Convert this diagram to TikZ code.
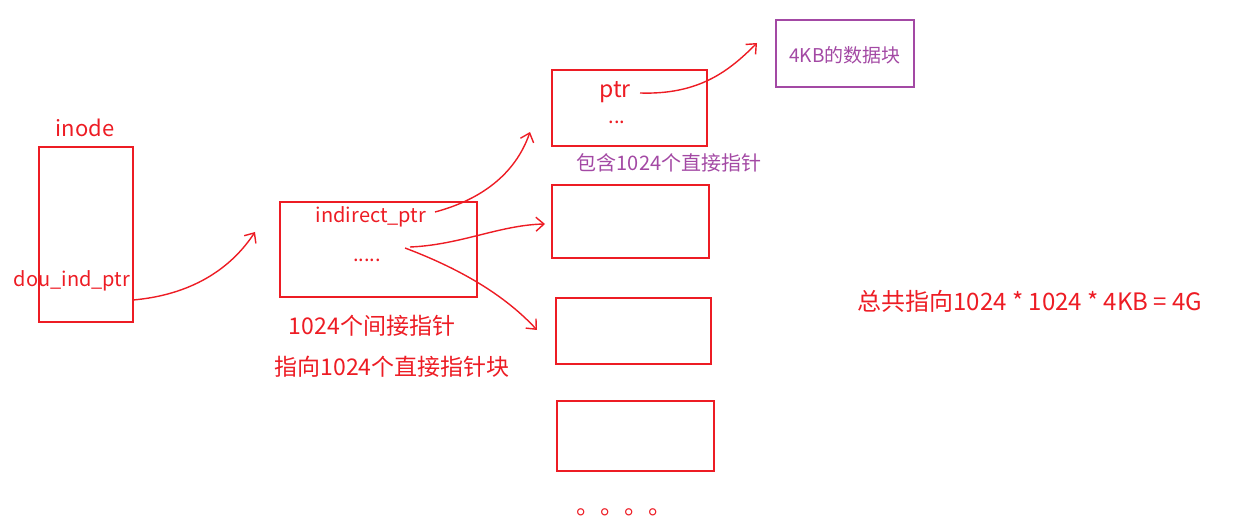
\documentclass[tikz,border=0pt]{standalone}
\usepackage{fontspec}
\setmainfont{Noto Sans CJK SC}
\usetikzlibrary{arrows.meta}
\definecolor{rd}{HTML}{ED1C24}
\definecolor{pu}{HTML}{A349A4}
\begin{document}
\begin{tikzpicture}[x=1pt,y=-1pt,
  box/.style={draw=rd,line width=2.4pt},
  rt/.style={text=rd,font=\fontsize{20}{20}\selectfont,inner sep=0pt},
  pt/.style={text=pu,font=\fontsize{19}{19}\selectfont,inner sep=0pt},
  arr/.style={draw=rd,line width=1.4pt,-{Straight Barb[length=8pt,width=14pt]}}]
\useasboundingbox (0,0) rectangle (1242,529);
\draw[box] (39,147) rectangle (133,322);
\draw[box] (280,202) rectangle (477,297);
\draw[box] (552,70) rectangle (707,146);
\draw[box] (552,185) rectangle (709,258);
\draw[box] (556,298) rectangle (711,364);
\draw[box] (557,401) rectangle (714,471);
\draw[draw=pu,line width=2.4pt] (776,20) rectangle (914,87);
\node[rt,font=\fontsize{22}{22}\selectfont] (inode) at (85,128) {inode};
\node[rt] (dou) at (72,281) {dou\_ind\_ptr};
\node[rt] (ind) at (371,217) {indirect\_ptr};
\node[rt] (d1) at (367,260) {.....};
\node[rt,font=\fontsize{23}{23}\selectfont] (l1) at (372,326) {1024个间接指针};
\node[rt,font=\fontsize{23}{23}\selectfont] (l2) at (392,367) {指向1024个直接指针块};
\node[rt,font=\fontsize{23}{23}\selectfont] (ptr) at (615,92) {ptr};
\node[rt] (d2) at (617,122) {...};
\node[pt,font=\fontsize{20}{20}\selectfont] (l3) at (669,163) {包含1024个直接指针};
\node[pt] (blk) at (845,55) {4KB的数据块};
\node[rt,font=\fontsize{24}{24}\selectfont] (dots) at (624,512) {。。。。};
\node[rt,font=\fontsize{24}{24}\selectfont] (tot) at (1030,301) {总共指向1024 * 1024 * 4KB = 4G};
\coordinate (a1) at (255,232);
\coordinate (a2) at (530,132);
\coordinate (a3) at (545,224);
\coordinate (a4) at (537,330);
\coordinate (a5) at (757,43);
\draw[arr] (133,300) .. controls (190,295) and (230,270) .. (a1);
\draw[arr] (435,212) .. controls (480,200) and (515,175) .. (a2);
\draw[arr] (410,247) .. controls (460,245) and (500,225) .. (a3);
\draw[arr] (405,248) .. controls (450,265) and (500,290) .. (a4);
\draw[arr] (640,93) .. controls (700,95) and (730,70) .. (a5);
\end{tikzpicture}
\end{document}
